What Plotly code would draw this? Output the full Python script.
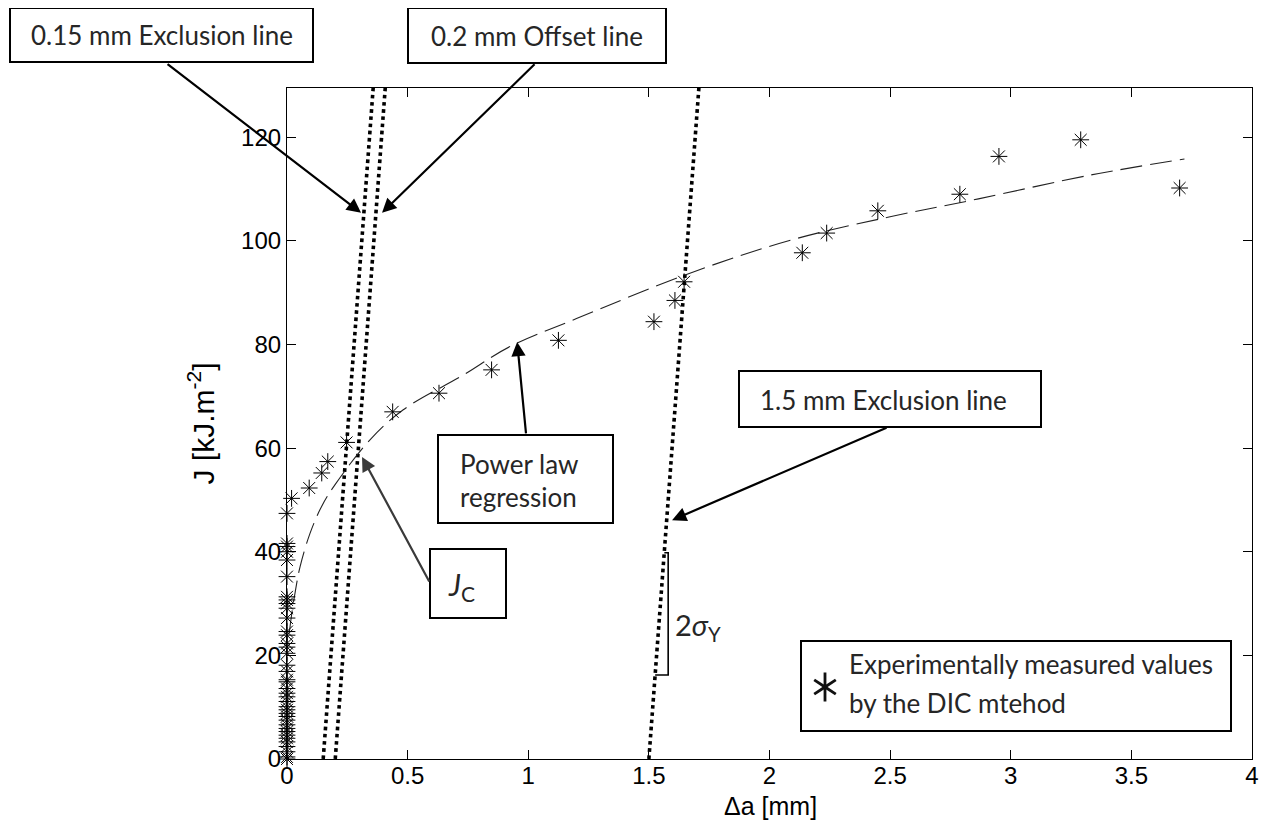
import plotly.graph_objects as go

# ---------------- data ----------------
# DIC measured points: many stacked at da ~ 0
dic_x = [0.0] * 39 + [0.019, 0.092, 0.144, 0.169, 0.247, 0.438, 0.63, 0.848, 1.125,
                      1.521, 1.608, 1.646, 2.136, 2.237, 2.449, 2.789, 2.951, 3.29, 3.70]
dic_y = [0.0, 0.4, 1.4, 2.4, 3.3, 4.0, 4.6, 5.3, 5.9, 6.6, 7.5, 8.2, 8.8, 9.5, 10.1,
         11.1, 12.0, 12.7, 13.6, 14.9, 15.3, 16.9, 18.1, 20.4, 21.6, 22.3, 23.9, 24.6,
         27.2, 29.1, 30.0, 30.7, 31.3, 35.2, 38.4, 40.0, 41.0, 41.6, 47.4,
         50.3, 52.3, 55.2, 57.4, 61.1, 67.0, 70.6, 75.1, 80.8,
         84.4, 88.5, 92.1, 97.7, 101.5, 105.8, 109.0, 116.3, 119.5, 110.2]

# power-law regression curve
reg_x = [0.01, 0.019, 0.035, 0.054, 0.095, 0.144, 0.2, 0.344, 0.482, 0.731, 0.924,
         1.2, 1.69, 2.093, 2.495, 2.866, 3.33, 3.72]
reg_y = [24.5, 27.8, 32.5, 37.1, 43.5, 48.8, 53.0, 61.6, 67.4, 74.1, 79.6,
         85.0, 94.1, 100.2, 104.6, 108.1, 112.7, 115.8]

# exclusion / offset lines (end points read at J = 0 and J = 130)
line_y = [0, 130]
excl_015_x = [0.15, 0.358]
offset_02_x = [0.20, 0.408]
excl_15_x = [1.50, 1.708]

# 2 sigma_Y bracket
bracket_x = [1.526, 1.580, 1.580, 1.564]
bracket_y = [16.2, 16.2, 39.8, 39.8]

x_ticks = [0, 0.5, 1, 1.5, 2, 2.5, 3, 3.5, 4]
x_labels = ["0", "0.5", "1", "1.5", "2", "2.5", "3", "3.5", "4"]
y_ticks = [0, 20, 40, 60, 80, 100, 120]
y_labels = ["0", "20", "40", "60", "80", "100", "120"]

# ---------------- layout geometry ----------------
# page pixels of the plot area in the reference
PL, PR, PT, PB = 287, 1252, 88, 759
OFF = 8  # page body margin
W, H = 1270 - OFF, 835 - OFF
L, T = PL - OFF, PT - OFF
R, B = W - (PR - OFF), H - (PB - OFF)
PW, PH = PR - PL, PB - PT


def px(xp):  # page pixel -> paper fraction
    return (xp - PL) / PW


def py(yp):
    return (PB - yp) / PH


TICKFONT = dict(family="Liberation Sans, Arial", size=24, color="black")
BOXFONT = dict(family="Lato, Open Sans, sans-serif", size=26, color="#262626")

fig = go.Figure()

for xs in (excl_015_x, offset_02_x, excl_15_x):
    fig.add_trace(go.Scatter(x=xs, y=line_y, mode="lines",
                             line=dict(color="black", width=3.6, dash="dot"),
                             hoverinfo="skip", showlegend=False))

fig.add_trace(go.Scatter(x=reg_x, y=reg_y, mode="lines", line_shape="spline",
                         line=dict(color="#222", width=1.1, dash="22px,8px"),
                         showlegend=False))

fig.add_trace(go.Scatter(x=bracket_x, y=bracket_y, mode="lines",
                         line=dict(color="black", width=1.6), showlegend=False))

fig.add_trace(go.Scatter(x=dic_x, y=dic_y, mode="markers", cliponaxis=False,
                         marker=dict(symbol="asterisk-open", size=14, color="black",
                                     line=dict(color="black", width=1)),
                         showlegend=False))

# legend glyph on an overlay axis (0..1 over the plot area)
for sym in ("y-up-open", "y-down-open"):
    fig.add_trace(go.Scatter(x=[px(825)], y=[py(687)], xaxis="x2", yaxis="y2",
                             mode="markers", cliponaxis=False,
                             marker=dict(symbol=sym, size=18, color="#111",
                                         line=dict(color="#111", width=2.8)),
                             showlegend=False, hoverinfo="skip"))

# text boxes (page-pixel rectangles)
boxes = [
    (10, 8, 313, 62),
    (408, 8, 666, 63),
    (739, 371, 1041, 427),
    (438, 435, 613, 523),
    (430, 549, 506, 618),
    (801, 641, 1231, 731),
]
for x0, y0, x1, y1 in boxes:
    fig.add_shape(type="rect", xref="paper", yref="paper",
                  x0=px(x0), x1=px(x1), y0=py(y0), y1=py(y1),
                  line=dict(color="black", width=2), fillcolor="rgba(0,0,0,0)",
                  layer="above")

texts = [
    ("0.15 mm Exclusion line", 161.5, 35, "center", 26),
    ("0.2 mm Offset line", 537, 36, "center", 26),
    ("1.5 mm Exclusion line", 883, 400, "center", 26),
    ("Power law", 458, 464, "left", 26),
    ("regression", 458, 497, "left", 26),
    ("Experimentally measured values", 847, 664, "left", 26),
    ("by the DIC mtehod", 847, 703, "left", 26),
]
for t, xp, yp, al, fs in texts:
    fig.add_annotation(text=t, xref="paper", yref="paper", x=px(xp), y=py(yp),
                       xanchor=al, yanchor="middle", showarrow=False,
                       font=dict(BOXFONT, size=fs))

fig.add_annotation(text="<i>J</i><sub>C</sub>", xref="paper", yref="paper",
                   x=px(461), y=py(586), xanchor="center", yanchor="middle",
                   showarrow=False, font=dict(BOXFONT, size=30))
fig.add_annotation(text="2<i>σ</i><sub>Y</sub>", xref="paper", yref="paper",
                   x=px(673), y=py(626), xanchor="left", yanchor="middle",
                   showarrow=False, font=dict(BOXFONT, size=29))

# arrows: tip in data coordinates, tail offset in pixels
arrows = [
    (0.307, 105.4, -195, -150, "black"),
    (0.394, 105.4, 154, -150, "black"),
    (1.596, 46.1, 216, -93, "black"),
    (0.954, 80.5, 9, 93, "black"),
    (0.311, 58.3, 68, 126, "#3a3a3a"),
]
for xt, yt, ax, ay, c in arrows:
    fig.add_annotation(x=xt, y=yt, xref="x", yref="y", ax=ax, ay=ay,
                       axref="pixel", ayref="pixel", text="", showarrow=True,
                       arrowhead=2, arrowsize=1.3, arrowwidth=2.2, arrowcolor=c)

# axis titles
fig.add_annotation(text="Δa [mm]", xref="paper", yref="paper", x=px(770), y=py(806),
                   xanchor="center", yanchor="middle", showarrow=False,
                   font=dict(TICKFONT, size=25))
fig.add_annotation(text="J [kJ.m<sup>-2</sup>]", xref="paper", yref="paper",
                   x=px(201), y=0.5, xanchor="center", yanchor="middle",
                   textangle=-90, showarrow=False, font=dict(TICKFONT, size=30))

axis_common = dict(ticks="inside", ticklen=9, tickwidth=1, tickcolor="black",
                   showline=True, linecolor="black", linewidth=1.2, mirror="allticks",
                   showgrid=False, zeroline=False, tickfont=TICKFONT)

fig.update_layout(
    width=W, height=H,
    margin=dict(l=L, r=R, t=T, b=B),
    paper_bgcolor="white", plot_bgcolor="white",
    xaxis=dict(range=[0, 4], tickvals=x_ticks, ticktext=x_labels,
               ticklabelstandoff=-5, **axis_common),
    yaxis=dict(range=[0, 129.5], tickvals=y_ticks, ticktext=y_labels, **axis_common),
    xaxis2=dict(overlaying="x", anchor="y2", range=[0, 1], visible=False),
    yaxis2=dict(overlaying="y", anchor="x2", range=[0, 1], visible=False),
    showlegend=False,
)

fig.write_html("out.html")
